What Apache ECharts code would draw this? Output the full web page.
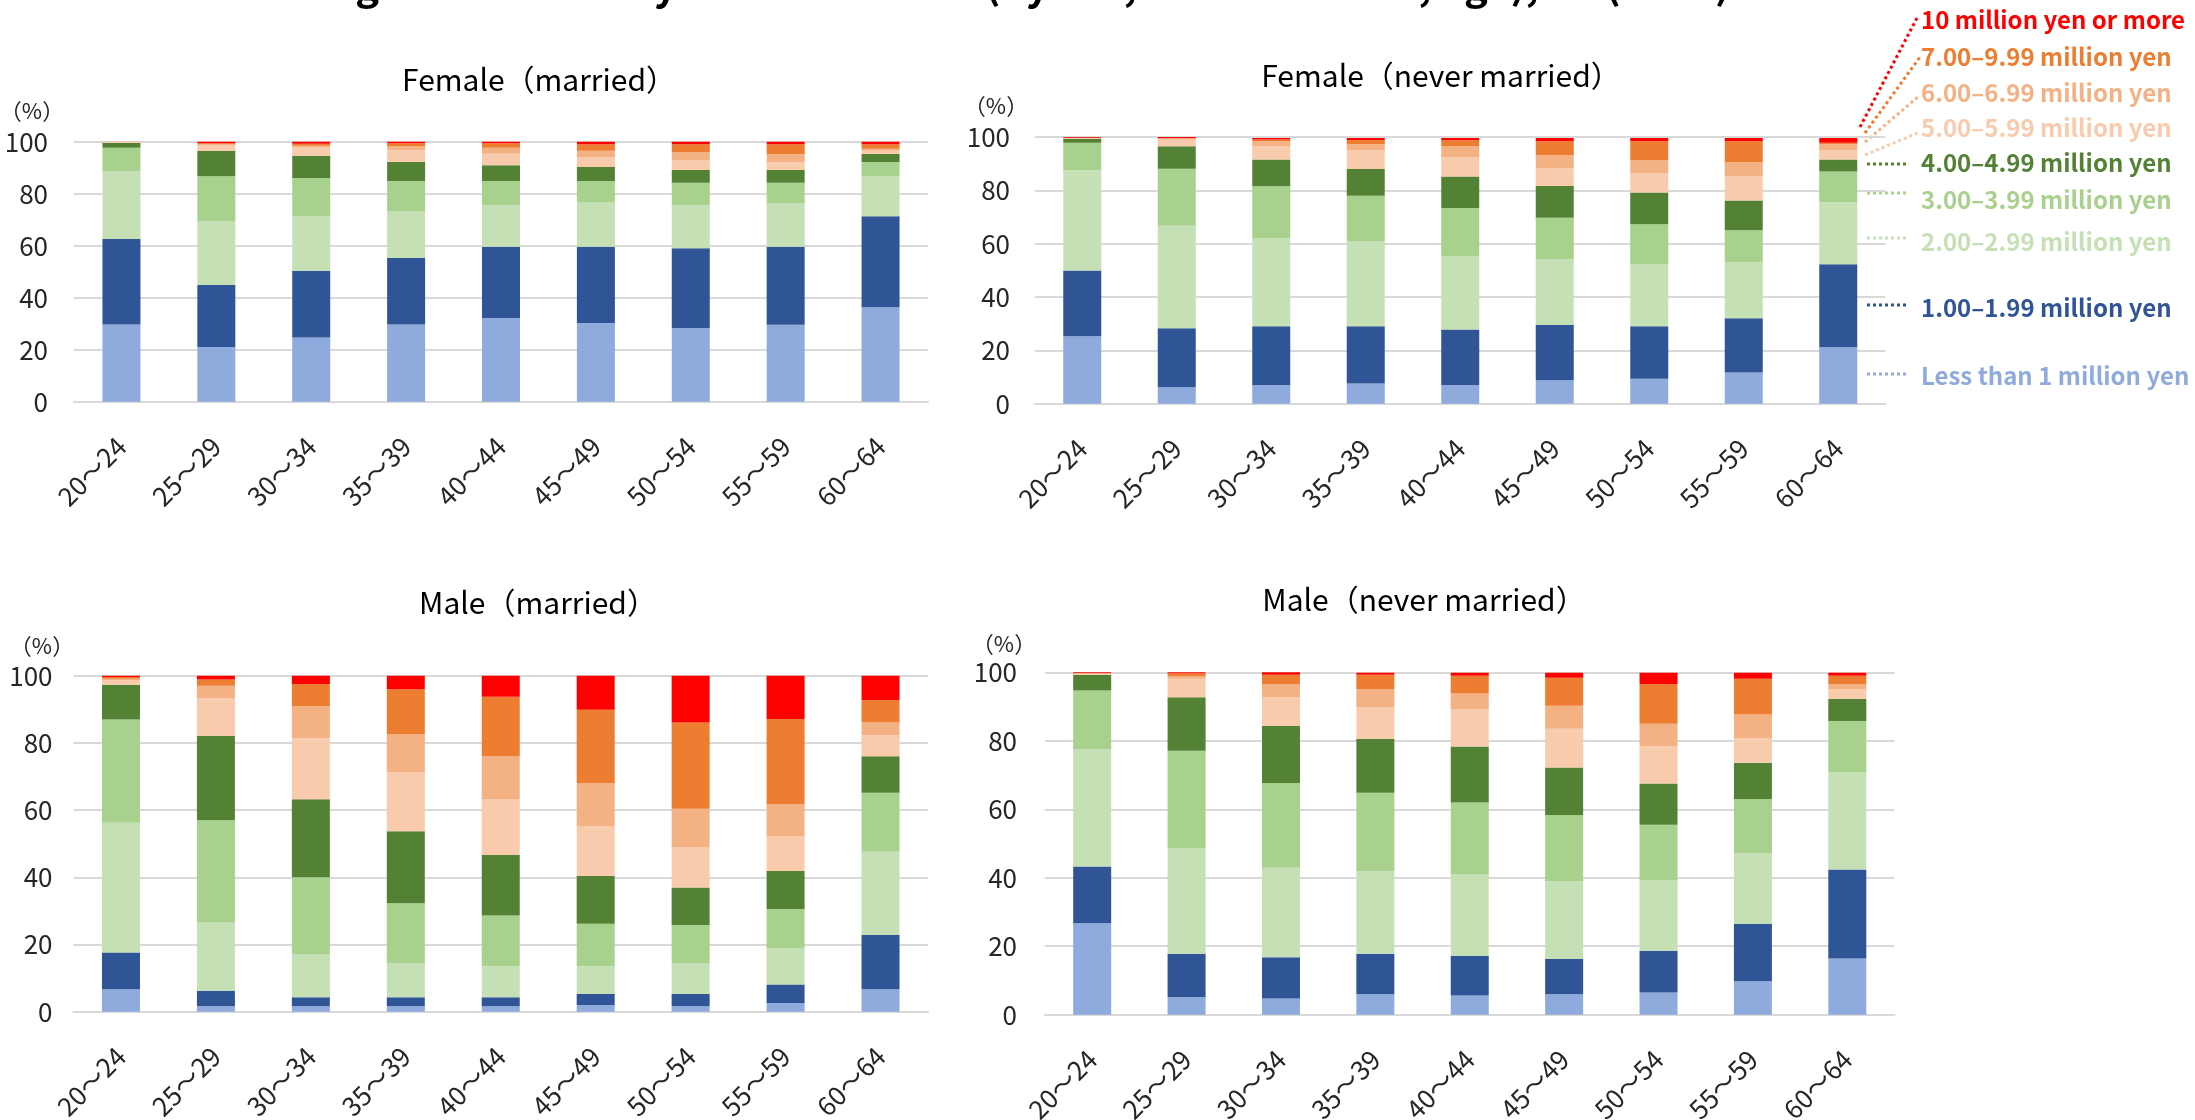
<!DOCTYPE html>
<html>
<head>
<meta charset="utf-8">
<script src="https://cdn.jsdelivr.net/npm/echarts@6/dist/echarts.min.js"></script>
<style>
html,body{margin:0;padding:0;background:#fff;overflow:hidden;}
#chart{width:2195px;height:1120px;}
</style>
</head>
<body>
<div id="chart"></div>
<script>
// ---- data ----
const categories = ['20～24','25～29','30～34','35～39','40～44','45～49','50～54','55～59','60～64'];
const bandNames = ['Less than 1 million yen','1.00–1.99 million yen','2.00–2.99 million yen','3.00–3.99 million yen','4.00–4.99 million yen','5.00–5.99 million yen','6.00–6.99 million yen','7.00–9.99 million yen','10 million yen or more'];
const bandColors = ['#8FAADC','#2F5597','#C5E0B4','#A9D18E','#548235','#F8CBAD','#F4B183','#ED7D31','#FF0000'];
const yTicks = [0,20,40,60,80,100];
const panelTitles = ['Female（married）','Female（never married）','Male（married）','Male（never married）'];
const unitLabel = '（%）';
const mainTitle = 'Table 3   Percentage of workers by annual income (by sex, marital status, age), all (2022)';

// rows: income band, columns: age group
const femaleMarried = [
  [29.7,21.0,24.7,29.7,32.2,30.3,28.3,29.6,36.3],
  [32.9,23.9,25.7,25.6,27.4,29.3,30.7,30.0,35.0],
  [26.1,24.6,21.0,18.0,16.0,17.2,16.6,16.8,15.5],
  [9.0,17.2,14.6,11.6,9.3,8.1,8.6,7.8,5.4],
  [1.8,9.7,8.6,7.3,6.0,5.4,4.9,4.9,3.1],
  [0.4,2.3,3.3,4.5,4.5,3.8,3.8,3.1,1.2],
  [0.1,0.4,0.5,1.6,2.3,2.4,3.1,3.1,0.8],
  [0.0,0.3,0.8,1.1,1.7,2.5,3.0,3.7,1.7],
  [0.0,0.6,0.8,0.6,0.6,1.0,1.0,1.0,1.0]
];
const femaleNeverMarried = [
  [25.3,6.2,7.0,7.6,7.0,8.8,9.4,11.7,21.2],
  [24.6,22.1,22.0,21.4,20.8,20.7,19.6,20.3,31.1],
  [37.6,38.4,33.0,31.8,27.6,24.7,23.3,21.1,23.2],
  [10.3,21.4,19.5,17.2,18.0,15.5,15.0,11.9,11.6],
  [1.5,8.4,10.1,10.0,11.8,11.9,11.9,11.2,4.5],
  [0.2,2.8,5.0,6.9,7.2,6.7,7.2,9.1,3.3],
  [0.1,0.1,1.9,2.4,4.1,4.9,4.9,5.2,2.4],
  [0.1,0.1,0.6,1.6,2.3,5.2,7.1,7.9,0.5],
  [0.3,0.5,0.5,0.7,0.8,1.2,1.2,1.2,1.8]
];
const maleMarried = [
  [6.7,1.6,1.6,1.6,1.6,2.0,1.6,2.6,6.7],
  [10.9,4.6,2.7,2.7,2.7,3.3,3.7,5.5,16.1],
  [38.6,20.5,12.9,10.2,9.2,8.2,9.2,10.7,24.8],
  [30.8,30.3,22.8,17.8,15.1,12.7,11.3,11.8,17.6],
  [10.3,25.1,23.2,21.4,18.0,14.2,11.2,11.3,10.8],
  [1.4,11.3,18.2,17.6,16.7,14.9,12.0,10.4,6.3],
  [0.4,3.6,9.5,11.3,12.8,12.8,11.4,9.5,3.8],
  [0.5,1.9,6.6,13.4,17.6,21.8,25.7,25.3,6.7],
  [0.4,1.1,2.5,4.0,6.3,10.1,13.9,12.9,7.2]
];
const maleNeverMarried = [
  [26.7,5.2,4.7,6.0,5.6,6.0,6.5,9.8,16.4],
  [16.6,12.6,12.1,11.8,11.6,10.3,12.2,16.7,26.0],
  [34.3,30.9,26.1,24.2,23.9,22.6,20.6,20.7,28.5],
  [17.1,28.4,24.8,22.8,20.9,19.4,16.2,15.8,14.9],
  [4.6,15.6,16.6,15.7,16.3,13.9,12.0,10.6,6.4],
  [0.3,5.4,8.5,9.2,10.8,11.3,11.0,7.2,2.9],
  [0.1,0.8,3.8,5.4,4.7,6.7,6.5,6.9,1.5],
  [0.1,0.8,2.7,4.2,5.2,8.2,11.6,10.4,2.4],
  [0.2,0.3,0.7,0.6,0.9,1.5,3.3,1.8,0.9]
];

// ---- layout ----
const FONT = '"Noto Sans CJK JP","Noto Sans",sans-serif';
const panels = [
  {data: femaleMarried,      grid:{left:74,  top:141.7, width:854,   height:260},  yMargin:26, title:[539,80],  unit:[32,111]},
  {data: femaleNeverMarried, grid:{left:1035,top:137,   width:850.5, height:266.7},yMargin:25, title:[1441,76], unit:[996,106]},
  {data: maleMarried,        grid:{left:73.5,top:675.7, width:854.5, height:336},  yMargin:21, title:[538,603], unit:[42,646]},
  {data: maleNeverMarried,   grid:{left:1045,top:672.3, width:849.5, height:342.4},yMargin:28, title:[1424,600],unit:[1004,644]}
];

const grids=[], xAxes=[], yAxes=[], series=[], graphics=[];
panels.forEach((p,pi)=>{
  grids.push(Object.assign({containLabel:false, outerBoundsMode:'none'}, p.grid));
  xAxes.push({
    type:'category', gridIndex:pi, data:categories,
    axisTick:{show:false},
    axisLine:{show:true, lineStyle:{color:'#D9D9D9', width:2}},
    axisLabel:{interval:0, rotate:45, margin:40, fontSize:26, color:'#262626', fontFamily:FONT, hideOverlap:false}
  });
  yAxes.push({
    type:'value', gridIndex:pi, min:yTicks[0], max:yTicks[yTicks.length-1], interval:20,
    axisLine:{show:false}, axisTick:{show:false},
    splitLine:{lineStyle:{color:'#D9D9D9', width:2}},
    axisLabel:{margin:p.yMargin, fontSize:26, color:'#262626', fontFamily:FONT}
  });
  bandNames.forEach((nm,bi)=>{
    series.push({
      type:'bar', name:nm, xAxisIndex:pi, yAxisIndex:pi, stack:'s'+pi,
      barWidth:38, data:p.data[bi],
      itemStyle:{color:bandColors[bi]},
      emphasis:{disabled:true}, animation:false
    });
  });
  graphics.push({type:'text', x:p.title[0], y:p.title[1],
    style:{text:panelTitles[pi], font:'30px '+FONT, fill:'#000', align:'center', verticalAlign:'middle', textAlign:'center', textVerticalAlign:'middle'}});
  graphics.push({type:'text', x:p.unit[0], y:p.unit[1],
    style:{text:unitLabel, font:'22px '+FONT, fill:'#262626', align:'center', verticalAlign:'middle', textAlign:'center', textVerticalAlign:'middle'}});
});

// clipped main title at the very top (only its lower edge is visible)
graphics.push({type:'text', x:14, y:4,
  style:{text:mainTitle, font:'bold 40px '+FONT, fill:'#000', align:'left', verticalAlign:'bottom', textAlign:'left', textVerticalAlign:'bottom'}});

// legend labels with dotted leader lines
const legendY = [376,308,242,200,163,128,93,57,20];
const leaderFrom = [[1867,374],[1867,305],[1867,238],[1867,193],[1867,164],[1865,155],[1865,142],[1865,133],[1860,127]];
const leaderTo   = [[1908,374],[1908,305],[1908,238],[1908,193],[1908,164],[1920,132],[1918,97],[1920,57],[1917,18]];
bandNames.forEach((nm,bi)=>{
  graphics.push({type:'line', shape:{x1:leaderFrom[bi][0],y1:leaderFrom[bi][1],x2:leaderTo[bi][0],y2:leaderTo[bi][1]},
    style:{stroke:bandColors[bi], lineWidth:3, lineDash:[3,3]}});
  graphics.push({type:'text', x:1921, y:legendY[bi],
    style:{text:nm, font:'bold 24px '+FONT, fill:bandColors[bi], align:'left', verticalAlign:'middle', textAlign:'left', textVerticalAlign:'middle'}});
});

const chart = echarts.init(document.getElementById('chart'), null, {renderer:'canvas'});
chart.setOption({
  animation:false,
  backgroundColor:'#fff',
  legend:{show:false},
  tooltip:{show:false},
  grid:grids, xAxis:xAxes, yAxis:yAxes, series:series,
  graphic:graphics
});
</script>
</body>
</html>
